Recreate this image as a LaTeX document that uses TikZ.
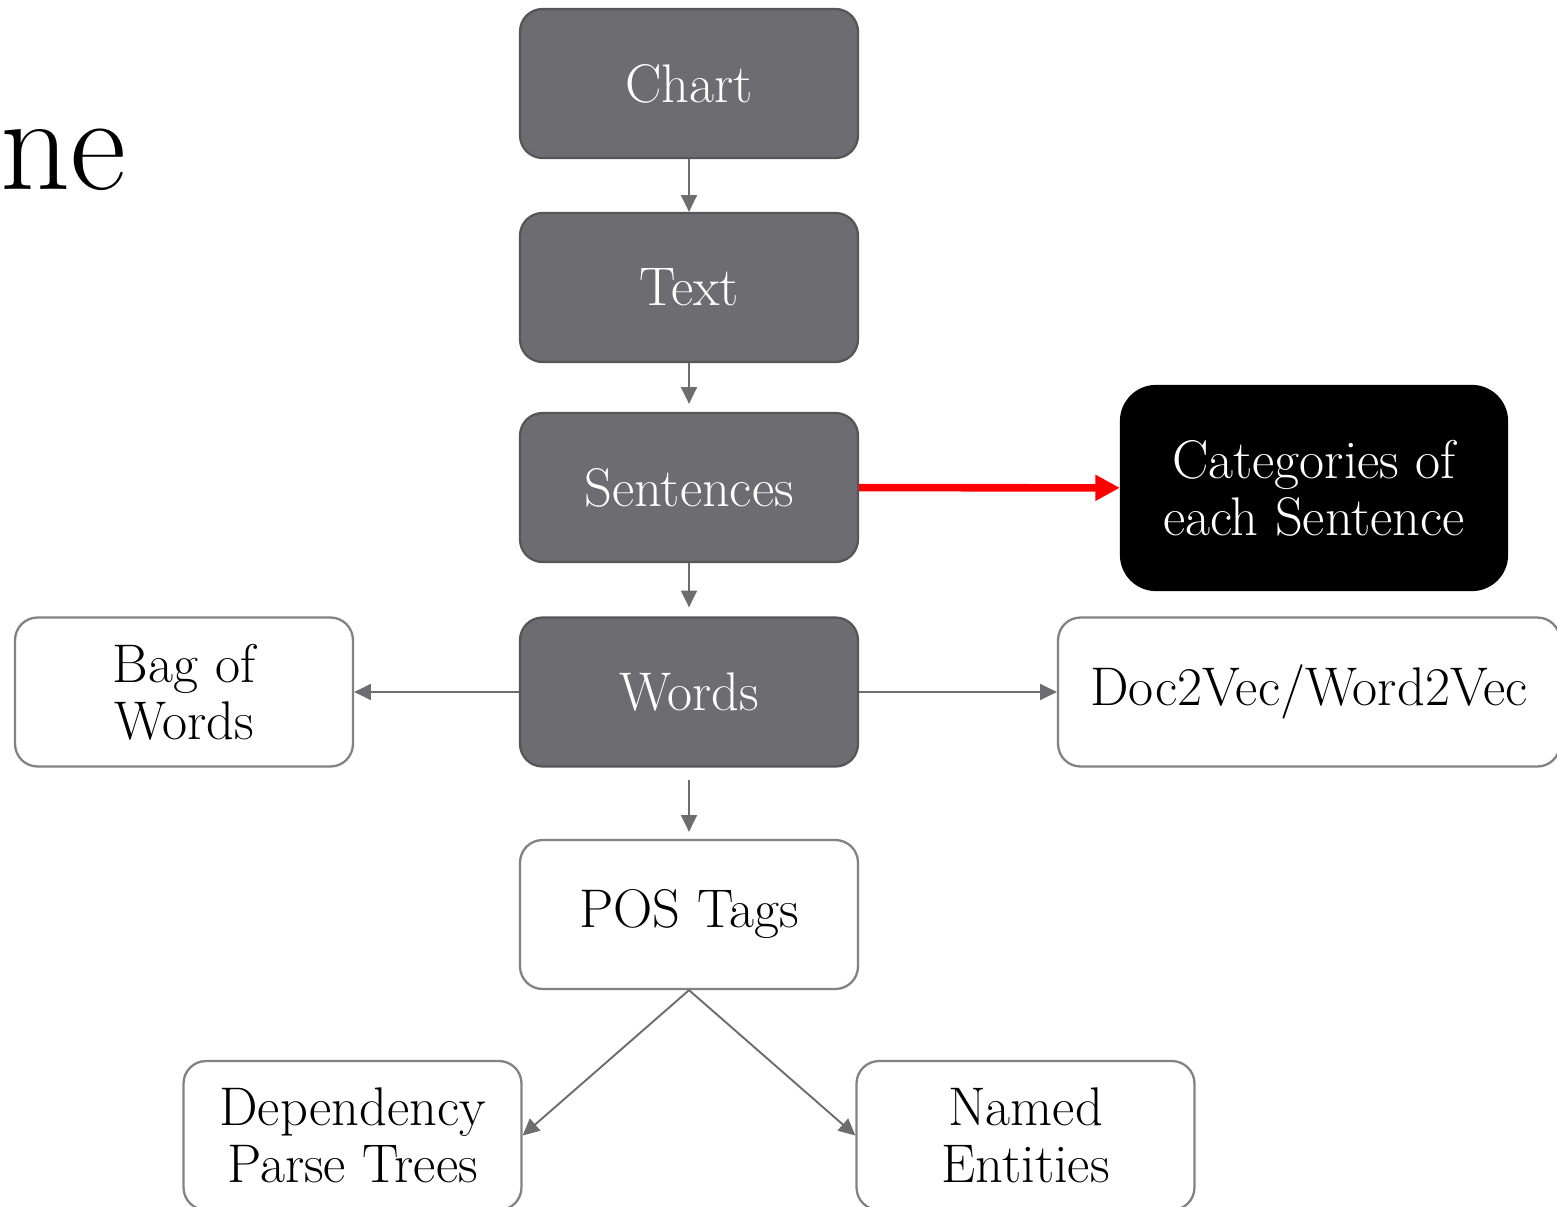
\documentclass[tikz,border=0pt]{standalone}
\usepackage{xcolor}
\usepackage{tikz}
\usetikzlibrary{arrows.meta}
\definecolor{boxgray}{HTML}{6D6C71}
\definecolor{rimgray}{HTML}{56555A}
\definecolor{linegray}{HTML}{828282}
\newcommand{\boxfont}{\fontsize{31}{32.5}\selectfont}

\begin{document}
\begin{tikzpicture}[x=0.02cm,y=-0.02cm,
  stage/.style={rectangle,rounded corners=0.45cm,draw=rimgray,fill=boxgray,line width=1.3pt,
    text=white,minimum width=6.76cm,minimum height=2.98cm,align=center,font=\boxfont,inner sep=0pt},
  result/.style={stage,draw=linegray,fill=white,text=black},
  flow/.style={draw=boxgray,line width=1.1pt,-{Triangle[length=9.5pt,width=9pt]}},
  hot/.style={draw=red,line width=4.3pt,-{Triangle[length=14pt,width=14pt]}}]
  \useasboundingbox (0,0) rectangle (1557,1206);

  \node[anchor=base west,inner sep=0pt,font=\fontsize{78}{80}\selectfont] (title) at (0,190) {ne};

  \node[stage] (chart) at (689,83.5) {Chart};
  \node[stage] (text) at (689,287.5) {Text};
  \node[stage] (sent) at (689,487.5) {Sentences};
  \node[stage] (words) at (689,692) {Words};
  \node[result] (pos) at (689,914.5) {POS Tags};
  \node[result] (bow) at (184,692) {Bag of\\Words};
  \node[result,minimum width=10.04cm] (vec) at (1309,692) {Doc2Vec/Word2Vec};
  \node[stage,draw=black,fill=black,rounded corners=0.7cm,minimum width=7.72cm,minimum height=4.08cm]
    (cat) at (1314,488) {Categories of\\each Sentence};
  \node[result] (dep) at (352.5,1135.5) {Dependency\\Parse Trees};
  \node[result] (ner) at (1025.5,1135.5) {Named\\Entities};

  \path
    (chart) edge[flow] (text)
    (text) edge[flow,shorten >=0.16cm] (sent)
    (sent) edge[flow,shorten >=0.18cm] (words)
    (words) edge[flow,shorten <=0.24cm,shorten >=0.14cm] (pos);

  \path
    (words) edge[flow] (bow)
    (words) edge[flow] (vec)
    (pos.south) edge[flow] (dep.east)
    (pos.south) edge[flow] (ner.west);

  \path (sent) edge[hot] (cat);
\end{tikzpicture}
\end{document}
